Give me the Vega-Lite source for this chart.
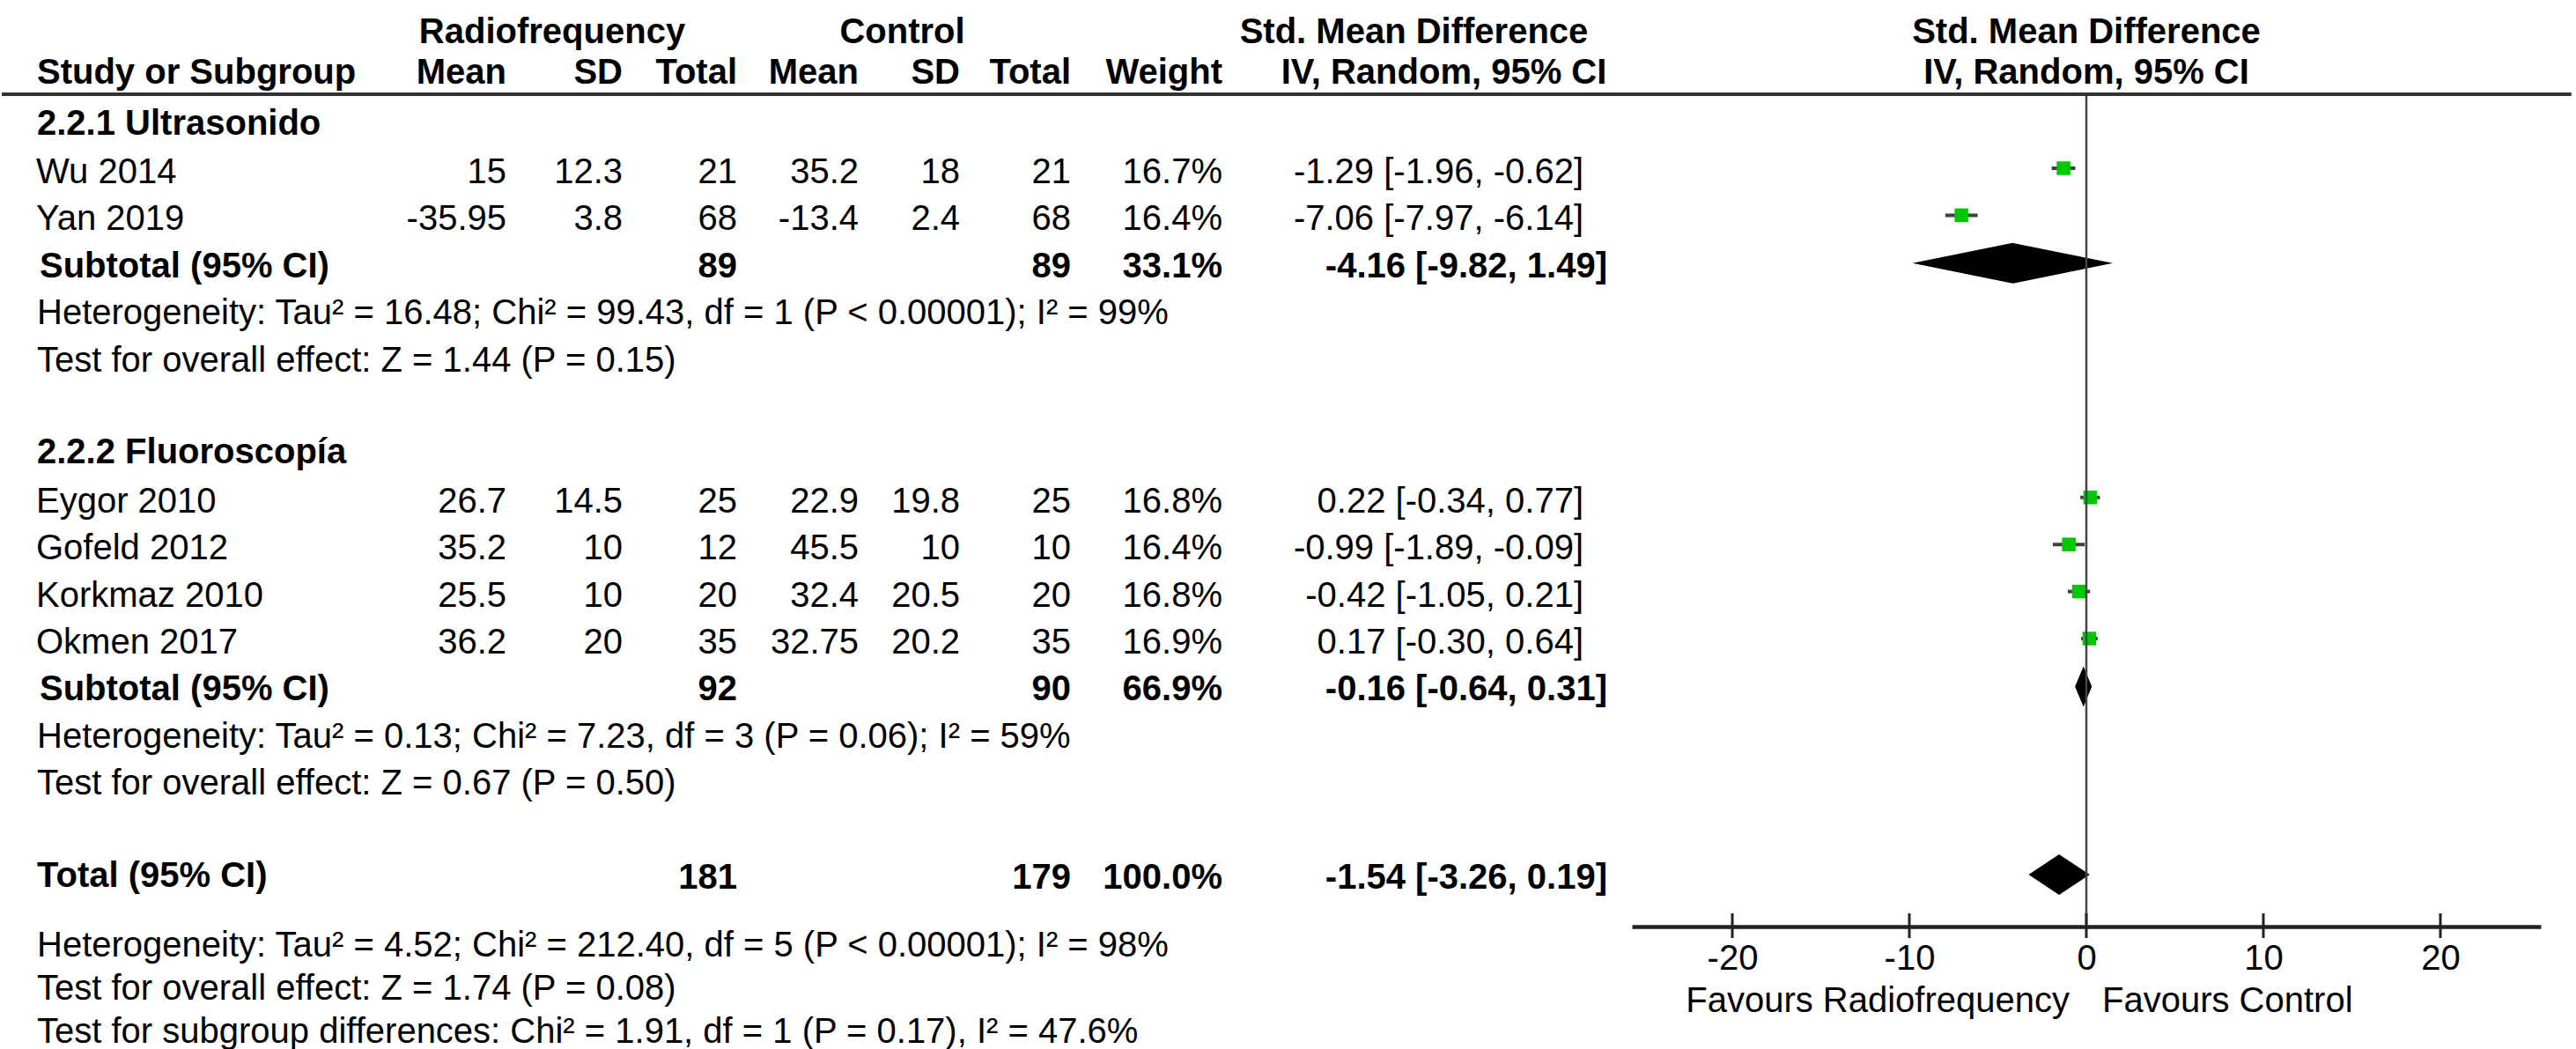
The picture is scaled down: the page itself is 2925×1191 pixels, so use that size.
{
  "$schema": "https://vega.github.io/schema/vega-lite/v6.json",
  "background": "white",
  "padding": 0,
  "spacing": 0,
  "bounds": "flush",
  "config": {
    "view": {"stroke": null},
    "text": {"font": "Liberation Sans", "fontSize": 40, "color": "#000000"},
    "concat": {"spacing": 0}
  },
  "datasets": {
    "rows": [
      {"row": 0, "kind": "group", "label": "2.2.1 Ultrasonido"},
      {"row": 1, "kind": "study", "label": "Wu 2014", "m1": "15", "sd1": "12.3", "n1": "21", "m2": "35.2", "sd2": "18", "n2": "21", "w": "16.7%", "est": -1.29, "lo": -1.96, "hi": -0.62, "smd": "-1.29 [-1.96, -0.62]"},
      {"row": 2, "kind": "study", "label": "Yan 2019", "m1": "-35.95", "sd1": "3.8", "n1": "68", "m2": "-13.4", "sd2": "2.4", "n2": "68", "w": "16.4%", "est": -7.06, "lo": -7.97, "hi": -6.14, "smd": "-7.06 [-7.97, -6.14]"},
      {"row": 3, "kind": "subtotal", "label": "Subtotal (95% CI)", "n1": "89", "n2": "89", "w": "33.1%", "est": -4.16, "lo": -9.82, "hi": 1.49, "smd": "-4.16 [-9.82, 1.49]"},
      {"row": 4, "kind": "note", "label": "Heterogeneity: Tau² = 16.48; Chi² = 99.43, df = 1 (P < 0.00001); I² = 99%"},
      {"row": 5, "kind": "note", "label": "Test for overall effect: Z = 1.44 (P = 0.15)"},
      {"row": 7, "kind": "group", "label": "2.2.2 Fluoroscopía"},
      {"row": 8, "kind": "study", "label": "Eygor 2010", "m1": "26.7", "sd1": "14.5", "n1": "25", "m2": "22.9", "sd2": "19.8", "n2": "25", "w": "16.8%", "est": 0.22, "lo": -0.34, "hi": 0.77, "smd": "0.22 [-0.34, 0.77]"},
      {"row": 9, "kind": "study", "label": "Gofeld 2012", "m1": "35.2", "sd1": "10", "n1": "12", "m2": "45.5", "sd2": "10", "n2": "10", "w": "16.4%", "est": -0.99, "lo": -1.89, "hi": -0.09, "smd": "-0.99 [-1.89, -0.09]"},
      {"row": 10, "kind": "study", "label": "Korkmaz 2010", "m1": "25.5", "sd1": "10", "n1": "20", "m2": "32.4", "sd2": "20.5", "n2": "20", "w": "16.8%", "est": -0.42, "lo": -1.05, "hi": 0.21, "smd": "-0.42 [-1.05, 0.21]"},
      {"row": 11, "kind": "study", "label": "Okmen 2017", "m1": "36.2", "sd1": "20", "n1": "35", "m2": "32.75", "sd2": "20.2", "n2": "35", "w": "16.9%", "est": 0.17, "lo": -0.30, "hi": 0.64, "smd": "0.17 [-0.30, 0.64]"},
      {"row": 12, "kind": "subtotal", "label": "Subtotal (95% CI)", "n1": "92", "n2": "90", "w": "66.9%", "est": -0.16, "lo": -0.64, "hi": 0.31, "smd": "-0.16 [-0.64, 0.31]"},
      {"row": 13, "kind": "note", "label": "Heterogeneity: Tau² = 0.13; Chi² = 7.23, df = 3 (P = 0.06); I² = 59%"},
      {"row": 14, "kind": "note", "label": "Test for overall effect: Z = 0.67 (P = 0.50)"},
      {"row": 16, "kind": "total", "label": "Total (95% CI)", "n1": "181", "n2": "179", "w": "100.0%", "est": -1.54, "lo": -3.26, "hi": 0.19, "smd": "-1.54 [-3.26, 0.19]"},
      {"row": 17, "kind": "note", "label": "Heterogeneity: Tau² = 4.52; Chi² = 212.40, df = 5 (P < 0.00001); I² = 98%"},
      {"row": 18, "kind": "note", "label": "Test for overall effect: Z = 1.74 (P = 0.08)"},
      {"row": 19, "kind": "note", "label": "Test for subgroup differences: Chi² = 1.91, df = 1 (P = 0.17), I² = 47.6%"}
    ],
    "headers": [
      {"row": -2, "col": "rf", "text": "Radiofrequency"},
      {"row": -2, "col": "ctl", "text": "Control"},
      {"row": -2, "col": "smd", "text": "Std. Mean Difference"},
      {"row": -2, "col": "plot", "text": "Std. Mean Difference"},
      {"row": -1, "col": "study", "text": "Study or Subgroup"},
      {"row": -1, "col": "m1", "text": "Mean"},
      {"row": -1, "col": "sd1", "text": "SD"},
      {"row": -1, "col": "n1", "text": "Total"},
      {"row": -1, "col": "m2", "text": "Mean"},
      {"row": -1, "col": "sd2", "text": "SD"},
      {"row": -1, "col": "n2", "text": "Total"},
      {"row": -1, "col": "w", "text": "Weight"},
      {"row": -1, "col": "smd", "text": "IV, Random, 95% CI"},
      {"row": -1, "col": "plot", "text": "IV, Random, 95% CI"}
    ],
    "ticks": [{"v": -20}, {"v": -10}, {"v": 0}, {"v": 10}, {"v": 20}],
    "favours": [{"side": "left", "text": "Favours Radiofrequency"}, {"side": "right", "text": "Favours Control"}]
  },
  "hconcat": [
    {
      "width": 458, "height": 1191, "data": {"name": "rows"},
      "layer": [
        {"data": {"values": [{}]}, "mark": {"type": "rule", "stroke": "#333333", "strokeWidth": 4}, "encoding": {"y": {"datum": -0.667, "type": "quantitative", "scale": {"domain": [-2.67, 16, 17, 19], "range": [0, 997, 1074, 1172], "nice": false, "zero": false}, "axis": null}}},
        {"data": {"name": "headers"}, "transform": [{"filter": "datum.col === 'study'"}], "mark": {"type": "text", "align": "left", "fontWeight": "bold", "dx": 40, "dy": -6}, "encoding": {"x": {"value": 0}, "y": {"field": "row", "type": "quantitative", "scale": {"domain": [-2.67, 16, 17, 19], "range": [0, 997, 1074, 1172], "nice": false, "zero": false}, "axis": null}, "text": {"field": "text"}}},
        {"transform": [{"filter": "datum.kind === 'group' || datum.kind === 'total'"}], "mark": {"type": "text", "align": "left", "fontWeight": "bold", "dx": 40, "dy": -2}, "encoding": {"x": {"value": 0}, "y": {"field": "row", "type": "quantitative", "scale": {"domain": [-2.67, 16, 17, 19], "range": [0, 997, 1074, 1172], "nice": false, "zero": false}, "axis": null}, "text": {"field": "label"}}},
        {"transform": [{"filter": "datum.kind === 'note'"}], "mark": {"type": "text", "align": "left", "dx": 40}, "encoding": {"x": {"value": 0}, "y": {"field": "row", "type": "quantitative", "scale": {"domain": [-2.67, 16, 17, 19], "range": [0, 997, 1074, 1172], "nice": false, "zero": false}, "axis": null}, "text": {"field": "label"}}},
        {"transform": [{"filter": "datum.kind === 'study'"}], "mark": {"type": "text", "align": "left", "dx": 39}, "encoding": {"x": {"value": 0}, "y": {"field": "row", "type": "quantitative", "scale": {"domain": [-2.67, 16, 17, 19], "range": [0, 997, 1074, 1172], "nice": false, "zero": false}, "axis": null}, "text": {"field": "label"}}},
        {"transform": [{"filter": "datum.kind === 'subtotal'"}], "mark": {"type": "text", "align": "left", "fontWeight": "bold", "dx": 43}, "encoding": {"x": {"value": 0}, "y": {"field": "row", "type": "quantitative", "scale": {"domain": [-2.67, 16, 17, 19], "range": [0, 997, 1074, 1172], "nice": false, "zero": false}, "axis": null}, "text": {"field": "label"}}}
      ]
    },
    {
      "width": 115, "height": 1191, "data": {"name": "rows"},
      "layer": [
        {"data": {"values": [{}]}, "mark": {"type": "rule", "stroke": "#333333", "strokeWidth": 4}, "encoding": {"y": {"datum": -0.667, "type": "quantitative", "scale": {"domain": [-2.67, 16, 17, 19], "range": [0, 997, 1074, 1172], "nice": false, "zero": false}, "axis": null}}},
        {"data": {"name": "headers"}, "transform": [{"filter": "datum.col === 'm1'"}], "mark": {"type": "text", "align": "right", "fontWeight": "bold", "dy": -6}, "encoding": {"x": {"value": "width"}, "y": {"field": "row", "type": "quantitative", "scale": {"domain": [-2.67, 16, 17, 19], "range": [0, 997, 1074, 1172], "nice": false, "zero": false}, "axis": null}, "text": {"field": "text"}}},
        {"transform": [{"filter": "datum.kind === 'study'"}], "mark": {"type": "text", "align": "right"}, "encoding": {"x": {"value": "width"}, "y": {"field": "row", "type": "quantitative", "scale": {"domain": [-2.67, 16, 17, 19], "range": [0, 997, 1074, 1172], "nice": false, "zero": false}, "axis": null}, "text": {"field": "m1"}}}
      ]
    },
    {
      "width": 132, "height": 1191, "data": {"name": "rows"},
      "layer": [
        {"data": {"values": [{}]}, "mark": {"type": "rule", "stroke": "#333333", "strokeWidth": 4}, "encoding": {"y": {"datum": -0.667, "type": "quantitative", "scale": {"domain": [-2.67, 16, 17, 19], "range": [0, 997, 1074, 1172], "nice": false, "zero": false}, "axis": null}}},
        {"data": {"name": "headers"}, "transform": [{"filter": "datum.col === 'sd1'"}], "mark": {"type": "text", "align": "right", "fontWeight": "bold", "dy": -6}, "encoding": {"x": {"value": "width"}, "y": {"field": "row", "type": "quantitative", "scale": {"domain": [-2.67, 16, 17, 19], "range": [0, 997, 1074, 1172], "nice": false, "zero": false}, "axis": null}, "text": {"field": "text"}}},
        {"data": {"name": "headers"}, "transform": [{"filter": "datum.col === 'rf'"}], "mark": {"type": "text", "align": "center", "fontWeight": "bold", "dx": -14, "dy": 1}, "encoding": {"y": {"field": "row", "type": "quantitative", "scale": {"domain": [-2.67, 16, 17, 19], "range": [0, 997, 1074, 1172], "nice": false, "zero": false}, "axis": null}, "text": {"field": "text"}}},
        {"transform": [{"filter": "datum.kind === 'study'"}], "mark": {"type": "text", "align": "right"}, "encoding": {"x": {"value": "width"}, "y": {"field": "row", "type": "quantitative", "scale": {"domain": [-2.67, 16, 17, 19], "range": [0, 997, 1074, 1172], "nice": false, "zero": false}, "axis": null}, "text": {"field": "sd1"}}}
      ]
    },
    {
      "width": 130, "height": 1191, "data": {"name": "rows"},
      "layer": [
        {"data": {"values": [{}]}, "mark": {"type": "rule", "stroke": "#333333", "strokeWidth": 4}, "encoding": {"y": {"datum": -0.667, "type": "quantitative", "scale": {"domain": [-2.67, 16, 17, 19], "range": [0, 997, 1074, 1172], "nice": false, "zero": false}, "axis": null}}},
        {"data": {"name": "headers"}, "transform": [{"filter": "datum.col === 'n1'"}], "mark": {"type": "text", "align": "right", "fontWeight": "bold", "dy": -6}, "encoding": {"x": {"value": "width"}, "y": {"field": "row", "type": "quantitative", "scale": {"domain": [-2.67, 16, 17, 19], "range": [0, 997, 1074, 1172], "nice": false, "zero": false}, "axis": null}, "text": {"field": "text"}}},
        {"transform": [{"filter": "datum.kind === 'study'"}], "mark": {"type": "text", "align": "right"}, "encoding": {"x": {"value": "width"}, "y": {"field": "row", "type": "quantitative", "scale": {"domain": [-2.67, 16, 17, 19], "range": [0, 997, 1074, 1172], "nice": false, "zero": false}, "axis": null}, "text": {"field": "n1"}}},
        {"transform": [{"filter": "datum.kind === 'subtotal' || datum.kind === 'total'"}], "mark": {"type": "text", "align": "right", "fontWeight": "bold"}, "encoding": {"x": {"value": "width"}, "y": {"field": "row", "type": "quantitative", "scale": {"domain": [-2.67, 16, 17, 19], "range": [0, 997, 1074, 1172], "nice": false, "zero": false}, "axis": null}, "text": {"field": "n1"}}}
      ]
    },
    {
      "width": 138, "height": 1191, "data": {"name": "rows"},
      "layer": [
        {"data": {"values": [{}]}, "mark": {"type": "rule", "stroke": "#333333", "strokeWidth": 4}, "encoding": {"y": {"datum": -0.667, "type": "quantitative", "scale": {"domain": [-2.67, 16, 17, 19], "range": [0, 997, 1074, 1172], "nice": false, "zero": false}, "axis": null}}},
        {"data": {"name": "headers"}, "transform": [{"filter": "datum.col === 'm2'"}], "mark": {"type": "text", "align": "right", "fontWeight": "bold", "dy": -6}, "encoding": {"x": {"value": "width"}, "y": {"field": "row", "type": "quantitative", "scale": {"domain": [-2.67, 16, 17, 19], "range": [0, 997, 1074, 1172], "nice": false, "zero": false}, "axis": null}, "text": {"field": "text"}}},
        {"transform": [{"filter": "datum.kind === 'study'"}], "mark": {"type": "text", "align": "right"}, "encoding": {"x": {"value": "width"}, "y": {"field": "row", "type": "quantitative", "scale": {"domain": [-2.67, 16, 17, 19], "range": [0, 997, 1074, 1172], "nice": false, "zero": false}, "axis": null}, "text": {"field": "m2"}}}
      ]
    },
    {
      "width": 115, "height": 1191, "data": {"name": "rows"},
      "layer": [
        {"data": {"values": [{}]}, "mark": {"type": "rule", "stroke": "#333333", "strokeWidth": 4}, "encoding": {"y": {"datum": -0.667, "type": "quantitative", "scale": {"domain": [-2.67, 16, 17, 19], "range": [0, 997, 1074, 1172], "nice": false, "zero": false}, "axis": null}}},
        {"data": {"name": "headers"}, "transform": [{"filter": "datum.col === 'sd2'"}], "mark": {"type": "text", "align": "right", "fontWeight": "bold", "dy": -6}, "encoding": {"x": {"value": "width"}, "y": {"field": "row", "type": "quantitative", "scale": {"domain": [-2.67, 16, 17, 19], "range": [0, 997, 1074, 1172], "nice": false, "zero": false}, "axis": null}, "text": {"field": "text"}}},
        {"data": {"name": "headers"}, "transform": [{"filter": "datum.col === 'ctl'"}], "mark": {"type": "text", "align": "center", "fontWeight": "bold", "dx": -8, "dy": 1}, "encoding": {"y": {"field": "row", "type": "quantitative", "scale": {"domain": [-2.67, 16, 17, 19], "range": [0, 997, 1074, 1172], "nice": false, "zero": false}, "axis": null}, "text": {"field": "text"}}},
        {"transform": [{"filter": "datum.kind === 'study'"}], "mark": {"type": "text", "align": "right"}, "encoding": {"x": {"value": "width"}, "y": {"field": "row", "type": "quantitative", "scale": {"domain": [-2.67, 16, 17, 19], "range": [0, 997, 1074, 1172], "nice": false, "zero": false}, "axis": null}, "text": {"field": "sd2"}}}
      ]
    },
    {
      "width": 126, "height": 1191, "data": {"name": "rows"},
      "layer": [
        {"data": {"values": [{}]}, "mark": {"type": "rule", "stroke": "#333333", "strokeWidth": 4}, "encoding": {"y": {"datum": -0.667, "type": "quantitative", "scale": {"domain": [-2.67, 16, 17, 19], "range": [0, 997, 1074, 1172], "nice": false, "zero": false}, "axis": null}}},
        {"data": {"name": "headers"}, "transform": [{"filter": "datum.col === 'n2'"}], "mark": {"type": "text", "align": "right", "fontWeight": "bold", "dy": -6}, "encoding": {"x": {"value": "width"}, "y": {"field": "row", "type": "quantitative", "scale": {"domain": [-2.67, 16, 17, 19], "range": [0, 997, 1074, 1172], "nice": false, "zero": false}, "axis": null}, "text": {"field": "text"}}},
        {"transform": [{"filter": "datum.kind === 'study'"}], "mark": {"type": "text", "align": "right"}, "encoding": {"x": {"value": "width"}, "y": {"field": "row", "type": "quantitative", "scale": {"domain": [-2.67, 16, 17, 19], "range": [0, 997, 1074, 1172], "nice": false, "zero": false}, "axis": null}, "text": {"field": "n2"}}},
        {"transform": [{"filter": "datum.kind === 'subtotal' || datum.kind === 'total'"}], "mark": {"type": "text", "align": "right", "fontWeight": "bold"}, "encoding": {"x": {"value": "width"}, "y": {"field": "row", "type": "quantitative", "scale": {"domain": [-2.67, 16, 17, 19], "range": [0, 997, 1074, 1172], "nice": false, "zero": false}, "axis": null}, "text": {"field": "n2"}}}
      ]
    },
    {
      "width": 172, "height": 1191, "data": {"name": "rows"},
      "layer": [
        {"data": {"values": [{}]}, "mark": {"type": "rule", "stroke": "#333333", "strokeWidth": 4}, "encoding": {"y": {"datum": -0.667, "type": "quantitative", "scale": {"domain": [-2.67, 16, 17, 19], "range": [0, 997, 1074, 1172], "nice": false, "zero": false}, "axis": null}}},
        {"data": {"name": "headers"}, "transform": [{"filter": "datum.col === 'w'"}], "mark": {"type": "text", "align": "right", "fontWeight": "bold", "dy": -6}, "encoding": {"x": {"value": "width"}, "y": {"field": "row", "type": "quantitative", "scale": {"domain": [-2.67, 16, 17, 19], "range": [0, 997, 1074, 1172], "nice": false, "zero": false}, "axis": null}, "text": {"field": "text"}}},
        {"transform": [{"filter": "datum.kind === 'study'"}], "mark": {"type": "text", "align": "right"}, "encoding": {"x": {"value": "width"}, "y": {"field": "row", "type": "quantitative", "scale": {"domain": [-2.67, 16, 17, 19], "range": [0, 997, 1074, 1172], "nice": false, "zero": false}, "axis": null}, "text": {"field": "w"}}},
        {"transform": [{"filter": "datum.kind === 'subtotal' || datum.kind === 'total'"}], "mark": {"type": "text", "align": "right", "fontWeight": "bold"}, "encoding": {"x": {"value": "width"}, "y": {"field": "row", "type": "quantitative", "scale": {"domain": [-2.67, 16, 17, 19], "range": [0, 997, 1074, 1172], "nice": false, "zero": false}, "axis": null}, "text": {"field": "w"}}}
      ]
    },
    {
      "width": 465, "height": 1191, "data": {"name": "rows"},
      "layer": [
        {"data": {"values": [{}]}, "mark": {"type": "rule", "stroke": "#333333", "strokeWidth": 4}, "encoding": {"y": {"datum": -0.667, "type": "quantitative", "scale": {"domain": [-2.67, 16, 17, 19], "range": [0, 997, 1074, 1172], "nice": false, "zero": false}, "axis": null}}},
        {"data": {"name": "headers"}, "transform": [{"filter": "datum.col === 'smd' && datum.row === -2"}], "mark": {"type": "text", "align": "center", "fontWeight": "bold", "dx": -15, "dy": 1}, "encoding": {"y": {"field": "row", "type": "quantitative", "scale": {"domain": [-2.67, 16, 17, 19], "range": [0, 997, 1074, 1172], "nice": false, "zero": false}, "axis": null}, "text": {"field": "text"}}},
        {"data": {"name": "headers"}, "transform": [{"filter": "datum.col === 'smd' && datum.row === -1"}], "mark": {"type": "text", "align": "center", "fontWeight": "bold", "dx": 19, "dy": -6}, "encoding": {"y": {"field": "row", "type": "quantitative", "scale": {"domain": [-2.67, 16, 17, 19], "range": [0, 997, 1074, 1172], "nice": false, "zero": false}, "axis": null}, "text": {"field": "text"}}},
        {"transform": [{"filter": "datum.kind === 'study'"}], "mark": {"type": "text", "align": "right", "dx": -55}, "encoding": {"x": {"value": "width"}, "y": {"field": "row", "type": "quantitative", "scale": {"domain": [-2.67, 16, 17, 19], "range": [0, 997, 1074, 1172], "nice": false, "zero": false}, "axis": null}, "text": {"field": "smd"}}},
        {"transform": [{"filter": "datum.kind === 'subtotal' || datum.kind === 'total'"}], "mark": {"type": "text", "align": "right", "fontWeight": "bold", "dx": -28}, "encoding": {"x": {"value": "width"}, "y": {"field": "row", "type": "quantitative", "scale": {"domain": [-2.67, 16, 17, 19], "range": [0, 997, 1074, 1172], "nice": false, "zero": false}, "axis": null}, "text": {"field": "smd"}}}
      ]
    },
    {
      "width": 1032, "height": 1052, "data": {"name": "rows"},
      "layer": [
        {"transform": [{"filter": "datum.kind === 'study'"}], "mark": {"type": "rule", "stroke": "#404040", "strokeWidth": 4, "yOffset": -5},
         "encoding": {
           "x": {"field": "lo", "type": "quantitative", "title": null, "scale": {"domain": [-25.672, 25.672], "nice": false, "zero": false},
                 "axis": {"values": [-20, -10, 0, 10, 20], "labelExpr": "datum.value < 0 ? '-' + abs(datum.value) : '' + datum.value", "domain": true, "domainColor": "#222222", "domainWidth": 4.5, "ticks": false, "tickSize": 0, "labelPadding": 16, "labelFontSize": 40, "labelFont": "Liberation Sans", "labelColor": "#000000", "labelFontWeight": "normal", "grid": false, "labelFlush": false, "labelOverlap": false, "title": null}},
           "x2": {"field": "hi"},
           "y": {"field": "row", "type": "quantitative", "scale": {"domain": [-2.67, 17.03], "reverse": true, "nice": false, "zero": false}, "axis": null}}},
        {"transform": [{"filter": "datum.kind === 'study'"}], "mark": {"type": "point", "shape": "square", "filled": true, "color": "#00C800", "size": 240, "opacity": 1, "yOffset": -5},
         "encoding": {
           "x": {"field": "est", "type": "quantitative", "title": null, "scale": {"domain": [-25.672, 25.672], "nice": false, "zero": false}},
           "y": {"field": "row", "type": "quantitative", "scale": {"domain": [-2.67, 17.03], "reverse": true, "nice": false, "zero": false}, "axis": null}}},
        {"transform": [{"filter": "datum.kind === 'subtotal' || datum.kind === 'total'"}], "mark": {"type": "point", "filled": true, "color": "#000000", "size": 2116, "opacity": 1, "strokeWidth": 0, "yOffset": -4},
         "encoding": {
           "x": {"field": "est", "type": "quantitative", "title": null, "scale": {"domain": [-25.672, 25.672], "nice": false, "zero": false}},
           "y": {"field": "row", "type": "quantitative", "scale": {"domain": [-2.67, 17.03], "reverse": true, "nice": false, "zero": false}, "axis": null},
           "shape": {"field": "row", "type": "nominal", "legend": null, "scale": {"domain": [3, 12, 16], "range": ["M-4.946,0L0,-1L4.938,0L0,1Z", "M-0.420,0L0,-1L0.411,0L0,1Z", "M-1.503,0L0,-1L1.512,0L0,1Z"]}}}},
        {"data": {"values": [{}]}, "mark": {"type": "rule", "stroke": "#444444", "strokeWidth": 2.5},
         "encoding": {
           "x": {"datum": 0, "type": "quantitative", "title": null, "scale": {"domain": [-25.672, 25.672], "nice": false, "zero": false}},
           "y": {"datum": -0.667, "type": "quantitative", "scale": {"domain": [-2.67, 17.03], "reverse": true, "nice": false, "zero": false}, "axis": null},
           "y2": {"datum": 17.03}}},
        {"data": {"values": [{}]}, "mark": {"type": "rule", "stroke": "#333333", "strokeWidth": 4},
         "encoding": {
           "x": {"datum": -25.672, "type": "quantitative", "title": null, "scale": {"domain": [-25.672, 25.672], "nice": false, "zero": false}},
           "x2": {"datum": 27.4},
           "y": {"datum": -0.667, "type": "quantitative", "scale": {"domain": [-2.67, 17.03], "reverse": true, "nice": false, "zero": false}, "axis": null}}},
        {"data": {"name": "ticks"}, "mark": {"type": "rule", "stroke": "#222222", "strokeWidth": 3},
         "encoding": {
           "x": {"field": "v", "type": "quantitative", "title": null, "scale": {"domain": [-25.672, 25.672], "nice": false, "zero": false}},
           "y": {"datum": 16.749, "type": "quantitative", "scale": {"domain": [-2.67, 17.03], "reverse": true, "nice": false, "zero": false}, "axis": null},
           "y2": {"datum": 17.273}}},
        {"data": {"name": "headers"}, "transform": [{"filter": "datum.col === 'plot' && datum.row === -2"}], "mark": {"type": "text", "align": "center", "fontWeight": "bold", "dy": 1},
         "encoding": {
           "x": {"datum": 0, "type": "quantitative", "title": null, "scale": {"domain": [-25.672, 25.672], "nice": false, "zero": false}},
           "y": {"field": "row", "type": "quantitative", "scale": {"domain": [-2.67, 17.03], "reverse": true, "nice": false, "zero": false}, "axis": null},
           "text": {"field": "text"}}},
        {"data": {"name": "headers"}, "transform": [{"filter": "datum.col === 'plot' && datum.row === -1"}], "mark": {"type": "text", "align": "center", "fontWeight": "bold", "dy": -6},
         "encoding": {
           "x": {"datum": 0, "type": "quantitative", "title": null, "scale": {"domain": [-25.672, 25.672], "nice": false, "zero": false}},
           "y": {"field": "row", "type": "quantitative", "scale": {"domain": [-2.67, 17.03], "reverse": true, "nice": false, "zero": false}, "axis": null},
           "text": {"field": "text"}}},
        {"data": {"name": "favours"}, "transform": [{"filter": "datum.side === 'left'"}], "mark": {"type": "text", "align": "right", "dx": -19},
         "encoding": {
           "x": {"datum": 0, "type": "quantitative", "title": null, "scale": {"domain": [-25.672, 25.672], "nice": false, "zero": false}},
           "y": {"datum": 18.627, "type": "quantitative", "scale": {"domain": [-2.67, 17.03], "reverse": true, "nice": false, "zero": false}, "axis": null},
           "text": {"field": "text"}}},
        {"data": {"name": "favours"}, "transform": [{"filter": "datum.side === 'right'"}], "mark": {"type": "text", "align": "left", "dx": 18},
         "encoding": {
           "x": {"datum": 0, "type": "quantitative", "title": null, "scale": {"domain": [-25.672, 25.672], "nice": false, "zero": false}},
           "y": {"datum": 18.627, "type": "quantitative", "scale": {"domain": [-2.67, 17.03], "reverse": true, "nice": false, "zero": false}, "axis": null},
           "text": {"field": "text"}}}
      ]
    }
  ]
}
